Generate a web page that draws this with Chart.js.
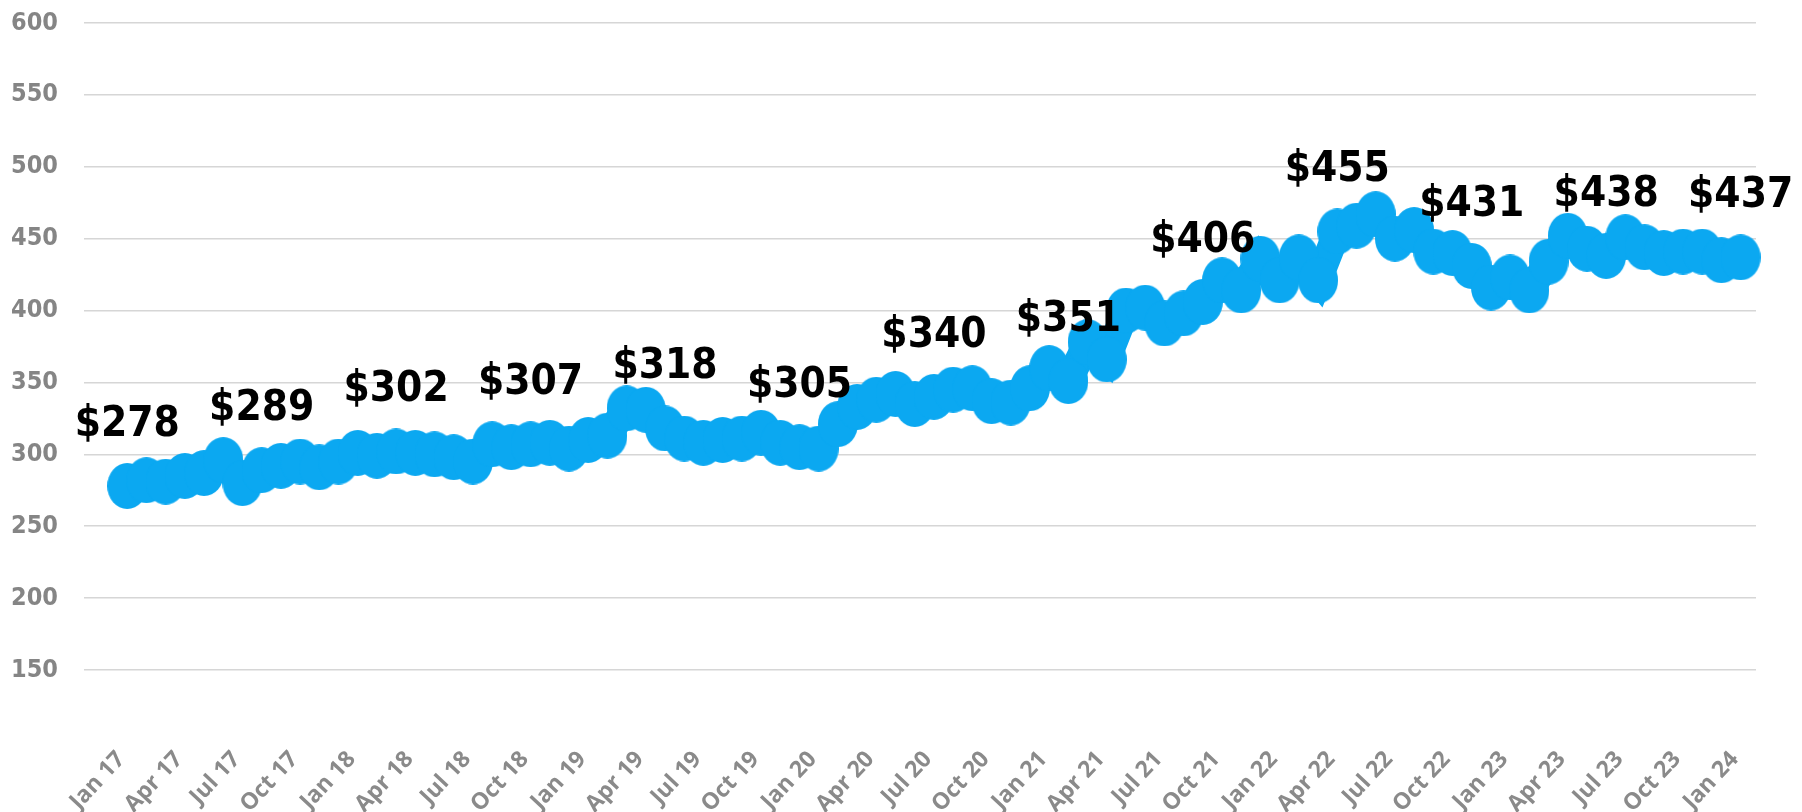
<!DOCTYPE html>
<html>
<head>
<meta charset="utf-8">
<script src="https://cdn.jsdelivr.net/npm/chart.js@4/dist/chart.umd.min.js"></script>
<style>
  html, body { margin: 0; padding: 0; background: #ffffff; }
  #wrap { width: 1802px; height: 812px; }
</style>
</head>
<body>
<div id="wrap"><canvas id="c" width="1802" height="812"></canvas></div>
<script>
// ---- data ----
const monthNames = ['Jan','Feb','Mar','Apr','May','Jun','Jul','Aug','Sep','Oct','Nov','Dec'];
const years = ['17','18','19','20','21','22','23','24'];
const categories = [];
years.forEach(function (yy) {
  monthNames.forEach(function (m) {
    if (categories.length < 85) categories.push(m + ' ' + yy);
  });
});

const prices = [
  278, 282, 281, 285, 287, 296, 280, 289, 292, 295,
  291, 295, 301, 299, 302, 301, 300, 298, 295, 307,
  305, 307, 308, 304, 310, 313, 332, 331, 318, 311,
  308, 310, 311, 315, 308, 305, 304, 321, 333, 338,
  342, 335, 340, 345, 346, 337, 336, 346, 360, 351,
  378, 366, 400, 402, 391, 398, 406, 421, 414, 436,
  421, 437, 421, 455, 459, 467, 450, 456, 441, 440,
  431, 416, 423, 414, 434, 452, 443, 438, 451, 444,
  440, 441, 441, 435, 437
];

const tickLabels = [
  'Jan 17','Apr 17','Jul 17','Oct 17','Jan 18','Apr 18','Jul 18','Oct 18',
  'Jan 19','Apr 19','Jul 19','Oct 19','Jan 20','Apr 20','Jul 20','Oct 20',
  'Jan 21','Apr 21','Jul 21','Oct 21','Jan 22','Apr 22','Jul 22','Oct 22',
  'Jan 23','Apr 23','Jul 23','Oct 23','Jan 24'
];

const calloutMonths = ['Jan 17','Aug 17','Mar 18','Oct 18','May 19','Dec 19','Jul 20',
  'Feb 21','Sep 21','Apr 22','Nov 22','Jun 23','Jan 24'];

const yTickValues = [150, 200, 250, 300, 350, 400, 450, 500, 550, 600];

// ---- chart ----
const BLUE = '#0BA8F1';
const points = prices.map(function (v, i) { return { x: i, y: v }; });

// slightly tall oval marker
const marker = document.createElement('canvas');
marker.width = 40;
marker.height = 46;
(function () {
  const m = marker.getContext('2d');
  m.fillStyle = BLUE;
  m.beginPath();
  m.ellipse(20, 23, 20, 23, 0, 0, Math.PI * 2);
  m.fill();
})();

const calloutPlugin = {
  id: 'callouts',
  afterDatasetsDraw: function (chart) {
    const ctx = chart.ctx;
    const meta = chart.getDatasetMeta(0);
    ctx.save();
    ctx.font = 'bold 42px "DejaVu Sans Condensed", "DejaVu Sans", sans-serif';
    ctx.fillStyle = '#000000';
    ctx.textAlign = 'center';
    ctx.textBaseline = 'alphabetic';
    calloutMonths.forEach(function (m) {
      const i = categories.indexOf(m);
      const el = meta.data[i];
      ctx.fillText('$' + prices[i], el.x, el.y - 50);
    });
    ctx.restore();
  }
};

new Chart(document.getElementById('c'), {
  type: 'line',
  data: {
    datasets: [{
      data: points,
      borderColor: BLUE,
      backgroundColor: BLUE,
      borderWidth: 28,
      pointStyle: marker,
      pointRadius: 20,
      pointHoverRadius: 20,
      pointBackgroundColor: BLUE,
      pointBorderWidth: 0,
      tension: 0,
      fill: false,
      clip: false
    }]
  },
  options: {
    responsive: false,
    animation: false,
    devicePixelRatio: 1,
    layout: { autoPadding: false, padding: { top: 23, right: 46, left: 0, bottom: 0 } },
    plugins: { legend: { display: false }, tooltip: { enabled: false } },
    scales: {
      x: {
        type: 'linear',
        min: -2.25,
        max: 84.8,
        grid: {
          display: true,
          drawOnChartArea: false,
          color: 'rgba(0,0,0,0)',
          tickColor: 'rgba(0,0,0,0)',
          drawTicks: true,
          tickLength: 72
        },
        border: { display: false },
        afterBuildTicks: function (s) {
          s.ticks = tickLabels.map(function (t) { return { value: categories.indexOf(t) }; });
        },
        afterFit: function (s) { s.height = 142; },
        ticks: {
          autoSkip: false,
          maxRotation: 47,
          minRotation: 47,
          padding: 4,
          labelOffset: -6,
          color: '#8a8a8a',
          font: { family: '"Open Sans", sans-serif', weight: 'bold', size: 23 },
          callback: function (v) { return categories[v]; }
        }
      },
      y: {
        min: 150,
        max: 600,
        afterBuildTicks: function (s) {
          s.ticks = yTickValues.map(function (v) { return { value: v }; });
        },
        afterFit: function (s) { s.width = 84; },
        grid: {
          color: '#d6d6d6',
          lineWidth: 1.5,
          drawTicks: true,
          tickLength: 26,
          tickColor: 'rgba(0,0,0,0)'
        },
        border: { display: false },
        ticks: {
          padding: 0,
          color: '#858585',
          font: { family: '"DejaVu Sans Condensed", "DejaVu Sans", sans-serif', weight: 'bold', size: 25 }
        }
      }
    }
  },
  plugins: [calloutPlugin]
});
</script>
</body>
</html>
